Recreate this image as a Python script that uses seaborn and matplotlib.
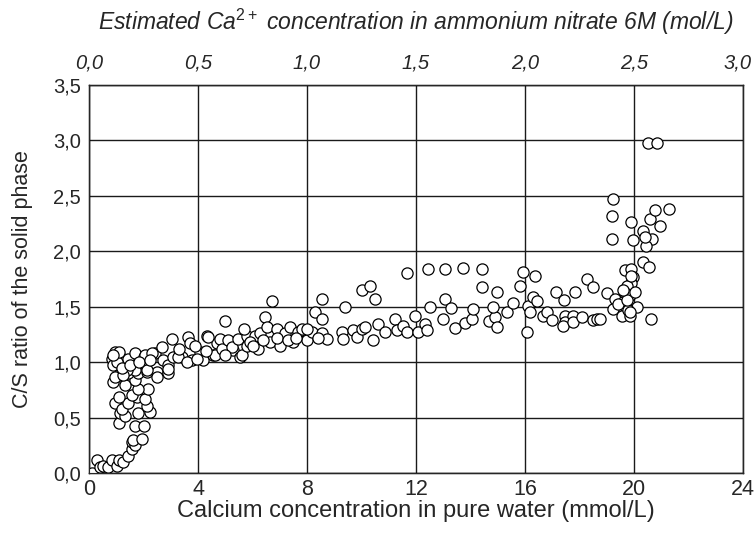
import matplotlib
matplotlib.use("Agg")
import matplotlib.pyplot as plt
import matplotlib.transforms as mtransforms
import seaborn as sns
import numpy as np
import pandas as pd
from matplotlib.ticker import FuncFormatter

# calcium concentration in pure water (mmol/L) and C/S ratio of the solid phase
ca_water = [
    0.10, 0.28, 0.40, 0.52, 0.70, 0.83, 1.02, 1.08, 1.26, 1.44, 1.57, 1.57, 1.69, 1.63, 1.93,
    1.69, 2.00, 1.08, 1.14, 1.32, 1.81, 2.24, 2.12, 0.95, 1.20, 1.44, 1.75, 2.06, 1.08, 1.57,
    2.18, 1.81, 0.89, 1.32, 1.69, 1.08, 1.44, 1.81, 2.12, 2.48, 2.91,
    0.95, 0.83, 1.08, 0.89, 1.14, 1.44, 1.69, 1.69, 1.38, 2.00, 2.12, 2.42, 2.67, 2.73, 2.91,
    3.03, 3.09, 3.40, 3.64, 3.71, 3.77, 4.07, 4.19, 4.32, 3.28, 3.58, 3.95, 4.56, 4.93, 5.30,
    5.54, 4.69, 5.05, 2.48, 2.91, 1.01, 0.95, 1.26, 1.08, 0.89, 2.06, 2.30, 1.20, 1.50, 1.85,
    2.25,
    4.38, 4.81, 4.99, 4.62, 4.87, 5.11, 5.25, 4.99, 5.48, 5.60, 5.79, 5.79, 6.09, 6.21, 6.28,
    6.46, 6.52, 6.64, 6.70, 6.89, 7.01, 7.19, 7.38, 7.50, 7.68, 7.80, 7.99, 8.17, 8.29, 8.54,
    8.54, 8.54, 8.72, 5.90, 6.40, 6.90, 7.30, 5.70, 6.00, 4.30, 3.30, 3.90, 7.60, 8.00, 8.40,
    9.39, 9.27, 9.33, 9.70, 9.82, 10.00, 10.13, 10.00, 10.31, 10.50, 10.43, 10.62, 10.86,
    11.23, 11.29, 11.53, 11.66, 11.66, 11.96, 12.09, 12.33, 12.40, 12.45, 12.51, 13.06, 13.06,
    13.28, 13.00, 13.43, 13.80, 14.04, 14.10, 13.74, 14.41, 14.41, 14.69, 14.90, 14.96,
    14.96, 14.84, 15.33, 15.57, 15.82, 15.94, 16.37, 16.12, 16.18, 16.30, 16.45, 16.08, 16.67,
    16.80, 16.98, 17.14, 17.43, 17.47, 17.47, 17.38, 17.83, 17.77, 17.77, 18.08, 18.26, 18.48,
    18.51, 18.63,
    20.34, 20.56, 19.67, 19.91, 19.97, 19.91, 19.73, 19.00, 19.30, 19.67, 19.85, 19.61, 19.67,
    19.24, 20.10, 19.55, 19.85, 20.61, 18.75, 19.79, 19.91, 19.40, 19.75, 19.60, 20.05, 19.85,
    19.24, 19.18, 19.18, 19.91, 19.95, 20.34, 20.59, 20.77, 21.30, 20.95, 20.65, 20.46, 20.40,
    20.53, 20.83,
]
cs_ratio = [
    0.00, 0.12, 0.05, 0.06, 0.05, 0.12, 0.06, 0.12, 0.10, 0.15, 0.22, 0.28, 0.25, 0.30, 0.31,
    0.42, 0.42, 0.45, 0.54, 0.51, 0.54, 0.55, 0.60, 0.63, 0.58, 0.63, 0.69, 0.67, 0.69, 0.70,
    0.76, 0.76, 0.82, 0.79, 0.84, 0.88, 0.90, 0.90, 0.91, 0.91, 0.90,
    1.09, 1.03, 1.06, 0.97, 1.02, 1.03, 1.08, 0.93, 0.93, 1.05, 0.93, 1.08, 1.14, 1.02, 0.97,
    1.21, 1.05, 1.05, 1.23, 1.17, 1.02, 1.09, 1.02, 1.24, 1.05, 1.00, 1.03, 1.06, 1.09, 1.11,
    1.05, 1.17, 1.19, 0.87, 0.94, 1.00, 0.87, 0.88, 1.09, 1.06, 1.06, 1.08, 0.95, 0.97, 1.00,
    1.02,
    1.23, 1.21, 1.37, 1.06, 1.12, 1.20, 1.14, 1.06, 1.21, 1.06, 1.15, 1.24, 1.24, 1.12, 1.26,
    1.41, 1.32, 1.18, 1.55, 1.30, 1.15, 1.26, 1.32, 1.18, 1.27, 1.30, 1.20, 1.27, 1.45, 1.57,
    1.39, 1.26, 1.21, 1.18, 1.20, 1.22, 1.20, 1.30, 1.15, 1.10, 1.12, 1.15, 1.22, 1.30, 1.22,
    1.50, 1.27, 1.21, 1.29, 1.23, 1.30, 1.32, 1.65, 1.69, 1.57, 1.20, 1.34, 1.27,
    1.39, 1.29, 1.33, 1.27, 1.80, 1.42, 1.27, 1.34, 1.29, 1.84, 1.50, 1.84, 1.57,
    1.49, 1.39, 1.31, 1.35, 1.39, 1.48, 1.85, 1.84, 1.68, 1.37, 1.41, 1.32,
    1.63, 1.50, 1.45, 1.53, 1.69, 1.81, 1.78, 1.51, 1.45, 1.59, 1.55, 1.27, 1.42,
    1.45, 1.38, 1.63, 1.56, 1.42, 1.36, 1.33, 1.63, 1.42, 1.36, 1.41, 1.75, 1.68,
    1.38, 1.39,
    1.90, 1.86, 1.83, 1.84, 1.77, 1.71, 1.69, 1.62, 1.57, 1.62, 1.61, 1.54, 1.51,
    1.48, 1.50, 1.42, 1.42, 1.39, 1.39, 1.47, 1.78, 1.52, 1.56, 1.65, 1.63, 1.45,
    2.47, 2.32, 2.11, 2.26, 2.10, 2.18, 2.29, 2.37, 2.38, 2.23, 2.11, 2.05, 2.13,
    2.98, 2.98,
]

bottom_ticks = [0, 4, 8, 12, 16, 20, 24]
left_ticks = [0.0, 0.5, 1.0, 1.5, 2.0, 2.5, 3.0, 3.5]
top_ticks = [0.0, 0.5, 1.0, 1.5, 2.0, 2.5, 3.0]

df = pd.DataFrame({"ca": ca_water, "cs": cs_ratio})

sns.set_style("white")
plt.rcParams["font.family"] = ["Liberation Sans", "DejaVu Sans"]
plt.rcParams["mathtext.fontset"] = "custom"
plt.rcParams["mathtext.rm"] = "Liberation Sans"
plt.rcParams["mathtext.it"] = "Liberation Sans:italic"

fig = plt.figure(figsize=(7.55, 5.36), dpi=100)
ax = fig.add_axes([0.118, 0.1175, 0.866, 0.724])

sns.scatterplot(data=df, x="ca", y="cs", ax=ax, s=65, color="white",
                edgecolor="black", linewidth=0.9, zorder=3, legend=False)

comma = FuncFormatter(lambda v, p: f"{v:.1f}".replace(".", ","))

ax.set_xlim(0, 24)
ax.set_ylim(0, 3.5)
ax.set_xticks(bottom_ticks)
ax.set_yticks(left_ticks)
ax.yaxis.set_major_formatter(comma)
ax.grid(True, color="#1a1a1a", linewidth=1.0)
ax.set_axisbelow(True)
ax.tick_params(axis="x", length=0, labelsize=15.5, pad=4)
ax.tick_params(axis="y", length=0, labelsize=14.5, pad=6)
for s in ax.spines.values():
    s.set_color("black")
    s.set_linewidth(1.0)
ax.set_xlabel("Calcium concentration in pure water (mmol/L)", fontsize=17, labelpad=0)
ax.set_ylabel("C/S ratio of the solid phase", fontsize=15.5, labelpad=14)

top = ax.twiny()
top.set_xlim(0, 3.0)
top.set_xticks(top_ticks)
top.xaxis.set_major_formatter(comma)
top.tick_params(length=0, labelsize=14.5, pad=9)
for lab in top.get_xticklabels():
    lab.set_style("italic")
# last top label sits on the figure edge; nudge it inward a little
last = top.get_xticklabels()[-1]
last.set_transform(last.get_transform() +
                   mtransforms.ScaledTranslation(-5 / 100, 0, fig.dpi_scale_trans))
top.set_xlabel("Estimated Ca$^{2+}$ concentration in ammonium nitrate 6M (mol/L)",
               fontsize=16.5, style="italic", labelpad=17)

fig.savefig("out.png", dpi=100)
